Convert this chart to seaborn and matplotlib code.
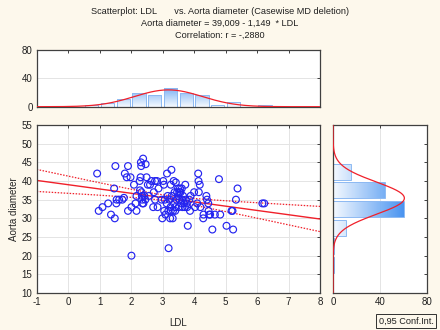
import numpy as np
import pandas as pd
import matplotlib
matplotlib.use("Agg")
import matplotlib.pyplot as plt
import seaborn as sns
from matplotlib.colors import LinearSegmentedColormap

# ---------------- data ----------------
ldl = [0.92, 0.97, 1.09, 1.27, 1.36, 1.46, 1.48, 1.50, 1.53, 1.54, 1.62, 1.72, 1.77, 1.80,
       1.86, 1.90, 1.90, 1.98, 2.01, 2.01, 2.09, 2.14, 2.17, 2.17, 2.27, 2.28, 2.30, 2.31,
       2.32, 2.33, 2.34, 2.35, 2.36, 2.38, 2.39, 2.42, 2.45, 2.46, 2.49, 2.53, 2.56, 2.60,
       2.65, 2.70, 2.72, 2.76, 2.76, 2.82, 2.84, 2.87, 2.97, 2.99, 3.02, 3.04, 3.05, 3.07,
       3.09, 3.13, 3.14, 3.16, 3.18, 3.19, 3.22, 3.24, 3.25, 3.26, 3.26, 3.28, 3.29, 3.32,
       3.33, 3.35, 3.36, 3.38, 3.40, 3.40, 3.42, 3.44, 3.46, 3.49, 3.50, 3.51, 3.53, 3.54,
       3.55, 3.57, 3.59, 3.61, 3.62, 3.63, 3.65, 3.68, 3.71, 3.72, 3.74, 3.77, 3.78, 3.80,
       3.85, 3.87, 3.89, 4.00, 4.03, 4.10, 4.13, 4.14, 4.15, 4.18, 4.20, 4.29, 4.30, 4.39,
       4.41, 4.45, 4.46, 4.48, 4.51, 4.58, 4.66, 4.79, 4.83, 5.03, 5.19, 5.22, 5.24, 5.33,
       5.38, 6.17, 6.23]
aorta = [42, 32, 33, 34, 31, 38, 30, 44, 34, 35, 35, 35, 35.5, 42,
         41, 44, 32, 41, 33, 20, 39, 34, 36, 32, 40, 37.5, 41, 45,
         44, 37, 36, 35, 34, 46, 34, 36, 35, 44.5, 41, 39, 36, 39,
         40, 33, 37, 40, 35, 40, 33, 38, 35, 30, 40, 39, 32, 35,
         31, 34, 42, 36, 32, 22, 35, 30, 33, 39, 32, 43, 36, 30,
         32, 40, 34, 37, 33, 32, 39.6, 35, 37, 38, 36, 33, 37, 35,
         38, 37, 34, 38, 35, 33, 36, 34, 33, 39, 35, 34, 33, 28,
         35, 32, 36, 37, 33, 34, 42, 40, 37, 39, 33, 30, 31, 36,
         35, 34, 32, 31, 31, 27, 31, 40.5, 31, 28, 32, 32, 27, 35,
         38, 34, 34]

top_bin_left = [0.5, 1.0, 1.5, 2.0, 2.5, 3.0, 3.5, 4.0, 4.5, 5.0, 5.5, 6.0]
top_counts = [2, 5, 11, 20, 16, 27, 19, 16, 3, 7, 0, 2]
top_bin_width = 0.5

right_bin_low = [15, 20, 25, 30, 35, 40, 45]
right_counts = [1, 1, 11, 60, 44, 15, 0]
right_bin_width = 5

intercept = 39.009
slope = -1.149

main_xticks = [-1, 0, 1, 2, 3, 4, 5, 6, 7, 8]
main_yticks = [10, 15, 20, 25, 30, 35, 40, 45, 50, 55]
top_yticks = [0, 40, 80]
right_xticks = [0, 40, 80]

title_lines = ["Scatterplot: LDL       vs. Aorta diameter (Casewise MD deletion)",
               "Aorta diameter = 39,009 - 1,149  * LDL",
               "Correlation: r = -,2880"]

# ---------------- style ----------------
sns.set_style("white")
plt.rcParams['font.family'] = ['Liberation Sans', 'DejaVu Sans']
BG = "#FDF8EC"
SPINE = "#404040"
GRID = "#E4E4E4"
BLUE = "#2424F0"
RED = "#F0202A"

W, H = 440, 330
fig = plt.figure(figsize=(W / 100, H / 100), dpi=100, facecolor=BG)

def frac(x0, y0, x1, y1):
    return [x0 / W, 1 - y1 / H, (x1 - x0) / W, (y1 - y0) / H]

ax = fig.add_axes(frac(36.7, 125, 320, 293))
axt = fig.add_axes(frac(36.7, 50, 320, 106.7))
axr = fig.add_axes(frac(333, 125, 427, 293))

for a in (ax, axt, axr):
    a.set_facecolor("white")
    for s in a.spines.values():
        s.set_color(SPINE)
        s.set_linewidth(0.9)
    a.tick_params(direction="in", length=2.5, width=0.7, colors=SPINE,
                  labelsize=7, labelcolor="#202020", pad=3)

# ---------------- main scatter ----------------
df = pd.DataFrame({"LDL": ldl, "Aorta diameter": aorta})
ax.set_xlim(-1, 8)
ax.set_ylim(10, 55)
ax.set_xticks(main_xticks)
ax.set_yticks(main_yticks)
ax.set_xticklabels([str(t) for t in main_xticks])
ax.grid(True, color=GRID, lw=0.7)
ax.set_axisbelow(True)

xs = np.array(ldl)
ys = np.array(aorta)
n = len(xs)
xline = np.linspace(-1, 8, 200)
yfit = intercept + slope * xline
resid = ys - (intercept + slope * xs)
s = np.sqrt(np.sum(resid ** 2) / (n - 2))
sxx = np.sum((xs - xs.mean()) ** 2)
half = 1.978 * s * np.sqrt(1 / n + (xline - xs.mean()) ** 2 / sxx)
lines = pd.DataFrame({"x": xline, "fit": yfit, "lo": yfit - half, "hi": yfit + half})

sns.lineplot(data=lines, x="x", y="fit", ax=ax, color=RED, lw=1.0)
sns.lineplot(data=lines, x="x", y="lo", ax=ax, color=RED, lw=0.9, linestyle=(0, (1.2, 1.2)))
sns.lineplot(data=lines, x="x", y="hi", ax=ax, color=RED, lw=0.9, linestyle=(0, (1.2, 1.2)))
sns.scatterplot(data=df, x="LDL", y="Aorta diameter", ax=ax, marker="o",
                facecolor="none", edgecolor=BLUE, s=24, linewidth=0.85, zorder=3)
ax.set_xlabel("LDL", fontsize=7, labelpad=8)
ax.set_ylabel("Aorta diameter", fontsize=7, labelpad=2)
ax.tick_params(top=True, right=True)

cmap = LinearSegmentedColormap.from_list("g", ["#F4F9FF", "#3A8BF0"])

# ---------------- top histogram ----------------
axt.set_xlim(-1, 8)
axt.set_ylim(0, 80)
axt.set_yticks(top_yticks)
axt.set_xticks(main_xticks)
axt.tick_params(labelbottom=False, top=True, bottom=False, right=True)
axt.yaxis.grid(True, color=GRID, lw=0.7)
axt.set_axisbelow(True)
centers_t = np.array(top_bin_left) + top_bin_width / 2
bars = axt.bar(centers_t, top_counts, width=top_bin_width * 0.84, color="none",
               edgecolor="#8DB9F2", linewidth=0.7, zorder=2)
grad_v = np.linspace(0, 1, 100).reshape(-1, 1)
for b in bars:
    im = axt.imshow(grad_v, cmap=cmap, origin="lower", extent=[-1, 8, 0, 32],
                    aspect="auto", zorder=1.5, alpha=0.8)
    im.set_clip_path(b)
axt.set_xlim(-1, 8)
axt.set_ylim(0, 80)
mu_x, sd_x = xs.mean(), xs.std(ddof=1)
nt = sum(top_counts)
curve_t = pd.DataFrame({"x": xline})
curve_t["y"] = nt * top_bin_width / (sd_x * np.sqrt(2 * np.pi)) * np.exp(-0.5 * ((xline - mu_x) / sd_x) ** 2)
sns.lineplot(data=curve_t, x="x", y="y", ax=axt, color=RED, lw=0.9, zorder=4)
axt.set_xlabel("")
axt.set_ylabel("")

# ---------------- right histogram ----------------
axr.set_ylim(10, 55)
axr.set_xlim(0, 80)
axr.set_xticks(right_xticks)
axr.set_yticks(main_yticks)
axr.tick_params(labelleft=False, right=True, top=True)
axr.xaxis.grid(True, color=GRID, lw=0.7)
axr.set_axisbelow(True)
centers_r = np.array(right_bin_low) + right_bin_width / 2
rbars = axr.barh(centers_r, right_counts, height=right_bin_width * 0.84, color="none",
                 edgecolor="#8DB9F2", linewidth=0.7, zorder=2)
grad_h = np.linspace(0, 1, 100).reshape(1, -1)
for b in rbars:
    im = axr.imshow(grad_h, cmap=cmap, origin="lower", extent=[0, 62, 10, 55],
                    aspect="auto", zorder=1.5, alpha=0.95)
    im.set_clip_path(b)
axr.set_xlim(0, 80)
axr.set_ylim(10, 55)
mu_y, sd_y = ys.mean(), ys.std(ddof=1)
nr = sum(right_counts)
yy = np.linspace(10, 55, 300)
curve_r = pd.DataFrame({"y": yy})
curve_r["x"] = nr * right_bin_width / (sd_y * np.sqrt(2 * np.pi)) * np.exp(-0.5 * ((yy - mu_y) / sd_y) ** 2)
axr.plot(curve_r["x"], curve_r["y"], color=RED, lw=0.9, zorder=4)
axr.set_xlabel("")
axr.set_ylabel("")

# ---------------- texts ----------------
for i, t in enumerate(title_lines):
    fig.text(220 / W, 1 - (11 + 12 * i) / H, t, ha="center", va="center",
             fontsize=6.6, color="#202020")

fig.text(406 / W, 1 - 321 / H, "0,95 Conf.Int.", ha="center", va="center", fontsize=6.6,
         color="#202020",
         bbox=dict(boxstyle="square,pad=0.3", facecolor=BG, edgecolor="#303030", lw=0.7))

fig.savefig("out.png", dpi=100, facecolor=BG)
